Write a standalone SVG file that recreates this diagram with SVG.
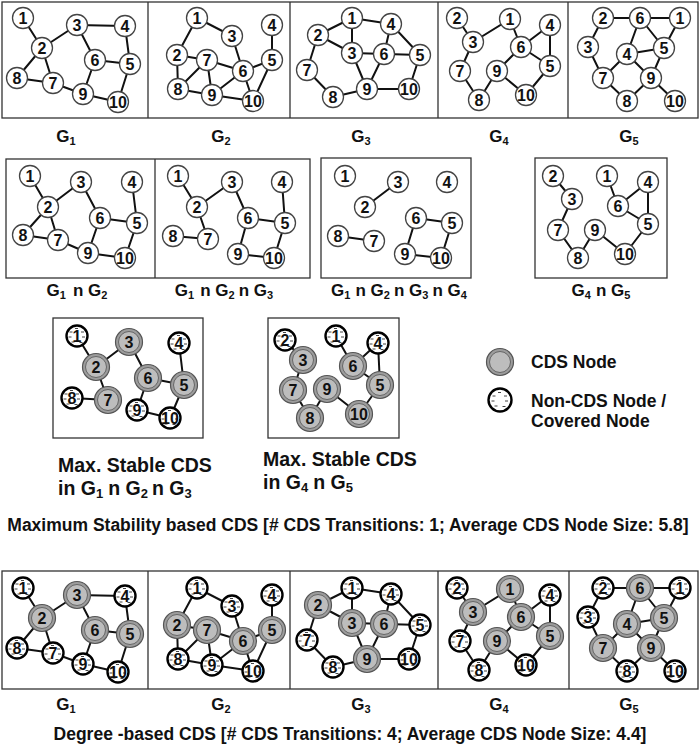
<svg xmlns="http://www.w3.org/2000/svg" width="700" height="746" viewBox="0 0 700 746">
<style>
.bx{fill:none;stroke:#333;stroke-width:1.3}
.e{fill:none;stroke:#111;stroke-width:2;stroke-linecap:round;stroke-linejoin:round}
.n{fill:#fff;stroke:#444;stroke-width:1.3}
.nc{fill:#fff;stroke:#000;stroke-width:2.4}
.co{fill:#9c9c9c;stroke:#555;stroke-width:1.2}
.ci{fill:#bdbdbd;stroke:#666;stroke-width:1}
.h{fill:none;stroke:#444;stroke-width:1}
.d{font-family:"Liberation Sans",Arial,sans-serif;font-weight:bold;font-size:16px;fill:#111;text-anchor:middle}
.l{font-family:"Liberation Sans",Arial,sans-serif;font-weight:bold;font-size:17px;fill:#111;text-anchor:middle}
.s{font-size:11px}
.m{font-family:"Liberation Sans",Arial,sans-serif;font-weight:bold;font-size:19.5px;fill:#111}
.ms{font-size:13px}
.g{font-family:"Liberation Sans",Arial,sans-serif;font-weight:bold;font-size:17.5px;fill:#111}
</style>
<defs>
<path id="hatch" class="h" d="M-2 -7.5h3M-7.5 -4h3M4 -4h3M-8.5 1h3M5 1h3M-5.5 6h3M2.5 6.5h3"/>
</defs>
<rect x="0" y="0" width="700" height="746" fill="#fff"/>

<g id="boxes">
<rect class="bx" x="2" y="2" width="696" height="116"/>
<path class="bx" d="M148 2V118M290 2V118M438 2V118M568 2V118"/>
<rect class="bx" x="6" y="159" width="304" height="119"/>
<path class="bx" d="M155 159V278"/>
<rect class="bx" x="321" y="158" width="150" height="120"/>
<rect class="bx" x="535" y="158" width="132" height="120"/>
<rect class="bx" x="53" y="318" width="150" height="120"/>
<rect class="bx" x="268" y="318" width="131" height="120"/>
<rect class="bx" x="2" y="571" width="696" height="118"/>
<path class="bx" d="M148 571V689M290 571V689M438 571V689M569 571V689"/>
</g>

<g id="connectors">
<path id="c-t1" class="e" d="M23 18L42 48L77 25L125 26L130 64L118 102L83 94L53 83L17 78L42 48L53 83M77 25L95 60L130 64M95 60L83 94"/>
<path id="c-t2" class="e" d="M177 55L197 18L232 36L243 71L272 60L272 25M272 60L253 101L243 71L207 60L177 55L178 89L207 60L212 95L178 89M212 95L243 71M212 95L253 101"/>
<path id="c-t3" class="e" d="M307 70L318 35L352 18L391 24L420 55L409 89L367 89L333 97L307 70M318 35L352 53L352 18M352 53L420 55M391 24L384 54L367 89L352 53"/>
<path id="c-t4" class="e" d="M457 18L473 42L510 19L521 47L550 25L550 66L526 95L497 71L521 47L550 66M473 42L460 71L479 100L497 71"/>
<path id="c-t5" class="e" d="M603 18L680 18L664 48L640 18L627 54L664 48L651 78L675 101M603 18L588 47L603 78L627 54L651 78L627 101L603 78"/>
<path id="c-m1" class="e" d="M30 176L48 207L81 182L100 218L137 223L132 182M137 223L125 258L88 253L58 240L23 235L48 207L58 240M100 218L88 253"/>
<path id="c-m2" class="e" d="M178 176L197 207L232 182L248 218L285 223L282 182M285 223L274 258L238 254L248 218M197 207L208 239L173 236"/>
<path id="c-m3" class="e" d="M365 207L398 182M338 236L374 241M452 223L416 218L405 254L441 258L452 223"/>
<path id="c-m4" class="e" d="M553 176L572 199L558 230L578 258L595 230L625 254L648 224L648 182L618 206L648 224M607 176L618 206"/>
<path id="c-s1" class="e" d="M77 336L96 367L129 342L148 378L184 385L179 343M184 385L170 418L137 410L148 378M96 367L108 400L72 398"/>
<path id="c-s2" class="e" d="M285 340L303 360L293 390L310 418L327 389L359 414L380 385L378 343L353 366L380 385M336 336L353 366"/>
<g transform="translate(0,570)">
<path id="c-b1" class="e" d="M23 18L42 48L77 25L125 26L130 64L118 102L83 94L53 83L17 78L42 48L53 83M77 25L95 60L130 64M95 60L83 94"/>
<path id="c-b2" class="e" d="M177 55L197 18L232 36L243 71L272 60L272 25M272 60L253 101L243 71L207 60L177 55L178 89L207 60L212 95L178 89M212 95L243 71M212 95L253 101"/>
<path id="c-b3" class="e" d="M307 70L318 35L352 18L391 24L420 55L409 89L367 89L333 97L307 70M318 35L352 53L352 18M352 53L420 55M391 24L384 54L367 89L352 53"/>
<path id="c-b4" class="e" d="M457 18L473 42L510 19L521 47L550 25L550 66L526 95L497 71L521 47L550 66M473 42L460 71L479 100L497 71"/>
<path id="c-b5" class="e" d="M603 18L680 18L664 48L640 18L627 54L664 48L651 78L675 101M603 18L588 47L603 78L627 54L651 78L627 101L603 78"/>
</g>
</g>

<g id="top-g1">
<g id="t1-1" transform="translate(23,18)"><circle class="n" r="10.5"/><text class="d" y="6">1</text></g>
<g id="t1-2" transform="translate(42,48)"><circle class="n" r="10.5"/><text class="d" y="6">2</text></g>
<g id="t1-3" transform="translate(77,25)"><circle class="n" r="10.5"/><text class="d" y="6">3</text></g>
<g id="t1-4" transform="translate(125,26)"><circle class="n" r="10.5"/><text class="d" y="6">4</text></g>
<g id="t1-5" transform="translate(130,64)"><circle class="n" r="10.5"/><text class="d" y="6">5</text></g>
<g id="t1-6" transform="translate(95,60)"><circle class="n" r="10.5"/><text class="d" y="6">6</text></g>
<g id="t1-7" transform="translate(53,83)"><circle class="n" r="10.5"/><text class="d" y="6">7</text></g>
<g id="t1-8" transform="translate(17,78)"><circle class="n" r="10.5"/><text class="d" y="6">8</text></g>
<g id="t1-9" transform="translate(83,94)"><circle class="n" r="10.5"/><text class="d" y="6">9</text></g>
<g id="t1-10" transform="translate(118,102)"><circle class="n" r="10.5"/><text class="d" y="6">10</text></g>
</g>
<g id="top-g2">
<g id="t2-1" transform="translate(197,18)"><circle class="n" r="10.5"/><text class="d" y="6">1</text></g>
<g id="t2-2" transform="translate(177,55)"><circle class="n" r="10.5"/><text class="d" y="6">2</text></g>
<g id="t2-3" transform="translate(232,36)"><circle class="n" r="10.5"/><text class="d" y="6">3</text></g>
<g id="t2-4" transform="translate(272,25)"><circle class="n" r="10.5"/><text class="d" y="6">4</text></g>
<g id="t2-5" transform="translate(272,60)"><circle class="n" r="10.5"/><text class="d" y="6">5</text></g>
<g id="t2-6" transform="translate(243,71)"><circle class="n" r="10.5"/><text class="d" y="6">6</text></g>
<g id="t2-7" transform="translate(207,60)"><circle class="n" r="10.5"/><text class="d" y="6">7</text></g>
<g id="t2-8" transform="translate(178,89)"><circle class="n" r="10.5"/><text class="d" y="6">8</text></g>
<g id="t2-9" transform="translate(212,95)"><circle class="n" r="10.5"/><text class="d" y="6">9</text></g>
<g id="t2-10" transform="translate(253,101)"><circle class="n" r="10.5"/><text class="d" y="6">10</text></g>
</g>
<g id="top-g3">
<g id="t3-1" transform="translate(352,18)"><circle class="n" r="10.5"/><text class="d" y="6">1</text></g>
<g id="t3-2" transform="translate(318,35)"><circle class="n" r="10.5"/><text class="d" y="6">2</text></g>
<g id="t3-3" transform="translate(352,53)"><circle class="n" r="10.5"/><text class="d" y="6">3</text></g>
<g id="t3-4" transform="translate(391,24)"><circle class="n" r="10.5"/><text class="d" y="6">4</text></g>
<g id="t3-5" transform="translate(420,55)"><circle class="n" r="10.5"/><text class="d" y="6">5</text></g>
<g id="t3-6" transform="translate(384,54)"><circle class="n" r="10.5"/><text class="d" y="6">6</text></g>
<g id="t3-7" transform="translate(307,70)"><circle class="n" r="10.5"/><text class="d" y="6">7</text></g>
<g id="t3-8" transform="translate(333,97)"><circle class="n" r="10.5"/><text class="d" y="6">8</text></g>
<g id="t3-9" transform="translate(367,89)"><circle class="n" r="10.5"/><text class="d" y="6">9</text></g>
<g id="t3-10" transform="translate(409,89)"><circle class="n" r="10.5"/><text class="d" y="6">10</text></g>
</g>
<g id="top-g4">
<g id="t4-1" transform="translate(510,19)"><circle class="n" r="10.5"/><text class="d" y="6">1</text></g>
<g id="t4-2" transform="translate(457,18)"><circle class="n" r="10.5"/><text class="d" y="6">2</text></g>
<g id="t4-3" transform="translate(473,42)"><circle class="n" r="10.5"/><text class="d" y="6">3</text></g>
<g id="t4-4" transform="translate(550,25)"><circle class="n" r="10.5"/><text class="d" y="6">4</text></g>
<g id="t4-5" transform="translate(550,66)"><circle class="n" r="10.5"/><text class="d" y="6">5</text></g>
<g id="t4-6" transform="translate(521,47)"><circle class="n" r="10.5"/><text class="d" y="6">6</text></g>
<g id="t4-7" transform="translate(460,71)"><circle class="n" r="10.5"/><text class="d" y="6">7</text></g>
<g id="t4-8" transform="translate(479,100)"><circle class="n" r="10.5"/><text class="d" y="6">8</text></g>
<g id="t4-9" transform="translate(497,71)"><circle class="n" r="10.5"/><text class="d" y="6">9</text></g>
<g id="t4-10" transform="translate(526,95)"><circle class="n" r="10.5"/><text class="d" y="6">10</text></g>
</g>
<g id="top-g5">
<g id="t5-1" transform="translate(680,18)"><circle class="n" r="10.5"/><text class="d" y="6">1</text></g>
<g id="t5-2" transform="translate(603,18)"><circle class="n" r="10.5"/><text class="d" y="6">2</text></g>
<g id="t5-3" transform="translate(588,47)"><circle class="n" r="10.5"/><text class="d" y="6">3</text></g>
<g id="t5-4" transform="translate(627,54)"><circle class="n" r="10.5"/><text class="d" y="6">4</text></g>
<g id="t5-5" transform="translate(664,48)"><circle class="n" r="10.5"/><text class="d" y="6">5</text></g>
<g id="t5-6" transform="translate(640,18)"><circle class="n" r="10.5"/><text class="d" y="6">6</text></g>
<g id="t5-7" transform="translate(603,78)"><circle class="n" r="10.5"/><text class="d" y="6">7</text></g>
<g id="t5-8" transform="translate(627,101)"><circle class="n" r="10.5"/><text class="d" y="6">8</text></g>
<g id="t5-9" transform="translate(651,78)"><circle class="n" r="10.5"/><text class="d" y="6">9</text></g>
<g id="t5-10" transform="translate(675,101)"><circle class="n" r="10.5"/><text class="d" y="6">10</text></g>
</g>

<g id="labels-top">
<text class="l" x="66" y="142">G<tspan class="s" dy="3">1</tspan></text>
<text class="l" x="221" y="142">G<tspan class="s" dy="3">2</tspan></text>
<text class="l" x="361" y="142">G<tspan class="s" dy="3">3</tspan></text>
<text class="l" x="499" y="142">G<tspan class="s" dy="3">4</tspan></text>
<text class="l" x="629" y="142">G<tspan class="s" dy="3">5</tspan></text>
</g>

<g id="mid-1">
<g id="m1-1" transform="translate(30,176)"><circle class="n" r="10.5"/><text class="d" y="6">1</text></g>
<g id="m1-2" transform="translate(48,207)"><circle class="n" r="10.5"/><text class="d" y="6">2</text></g>
<g id="m1-3" transform="translate(81,182)"><circle class="n" r="10.5"/><text class="d" y="6">3</text></g>
<g id="m1-4" transform="translate(132,182)"><circle class="n" r="10.5"/><text class="d" y="6">4</text></g>
<g id="m1-5" transform="translate(137,223)"><circle class="n" r="10.5"/><text class="d" y="6">5</text></g>
<g id="m1-6" transform="translate(100,218)"><circle class="n" r="10.5"/><text class="d" y="6">6</text></g>
<g id="m1-7" transform="translate(58,240)"><circle class="n" r="10.5"/><text class="d" y="6">7</text></g>
<g id="m1-8" transform="translate(23,235)"><circle class="n" r="10.5"/><text class="d" y="6">8</text></g>
<g id="m1-9" transform="translate(88,253)"><circle class="n" r="10.5"/><text class="d" y="6">9</text></g>
<g id="m1-10" transform="translate(125,258)"><circle class="n" r="10.5"/><text class="d" y="6">10</text></g>
</g>
<g id="mid-2">
<g id="m2-1" transform="translate(178,176)"><circle class="n" r="10.5"/><text class="d" y="6">1</text></g>
<g id="m2-2" transform="translate(197,207)"><circle class="n" r="10.5"/><text class="d" y="6">2</text></g>
<g id="m2-3" transform="translate(232,182)"><circle class="n" r="10.5"/><text class="d" y="6">3</text></g>
<g id="m2-4" transform="translate(282,182)"><circle class="n" r="10.5"/><text class="d" y="6">4</text></g>
<g id="m2-5" transform="translate(285,223)"><circle class="n" r="10.5"/><text class="d" y="6">5</text></g>
<g id="m2-6" transform="translate(248,218)"><circle class="n" r="10.5"/><text class="d" y="6">6</text></g>
<g id="m2-7" transform="translate(208,239)"><circle class="n" r="10.5"/><text class="d" y="6">7</text></g>
<g id="m2-8" transform="translate(173,236)"><circle class="n" r="10.5"/><text class="d" y="6">8</text></g>
<g id="m2-9" transform="translate(238,254)"><circle class="n" r="10.5"/><text class="d" y="6">9</text></g>
<g id="m2-10" transform="translate(274,258)"><circle class="n" r="10.5"/><text class="d" y="6">10</text></g>
</g>
<g id="mid-3">
<g id="m3-1" transform="translate(345,176)"><circle class="n" r="10.5"/><text class="d" y="6">1</text></g>
<g id="m3-2" transform="translate(365,207)"><circle class="n" r="10.5"/><text class="d" y="6">2</text></g>
<g id="m3-3" transform="translate(398,182)"><circle class="n" r="10.5"/><text class="d" y="6">3</text></g>
<g id="m3-4" transform="translate(447,182)"><circle class="n" r="10.5"/><text class="d" y="6">4</text></g>
<g id="m3-5" transform="translate(452,223)"><circle class="n" r="10.5"/><text class="d" y="6">5</text></g>
<g id="m3-6" transform="translate(416,218)"><circle class="n" r="10.5"/><text class="d" y="6">6</text></g>
<g id="m3-7" transform="translate(374,241)"><circle class="n" r="10.5"/><text class="d" y="6">7</text></g>
<g id="m3-8" transform="translate(338,236)"><circle class="n" r="10.5"/><text class="d" y="6">8</text></g>
<g id="m3-9" transform="translate(405,254)"><circle class="n" r="10.5"/><text class="d" y="6">9</text></g>
<g id="m3-10" transform="translate(441,258)"><circle class="n" r="10.5"/><text class="d" y="6">10</text></g>
</g>
<g id="mid-4">
<g id="m4-1" transform="translate(607,176)"><circle class="n" r="10.5"/><text class="d" y="6">1</text></g>
<g id="m4-2" transform="translate(553,176)"><circle class="n" r="10.5"/><text class="d" y="6">2</text></g>
<g id="m4-3" transform="translate(572,199)"><circle class="n" r="10.5"/><text class="d" y="6">3</text></g>
<g id="m4-4" transform="translate(648,182)"><circle class="n" r="10.5"/><text class="d" y="6">4</text></g>
<g id="m4-5" transform="translate(648,224)"><circle class="n" r="10.5"/><text class="d" y="6">5</text></g>
<g id="m4-6" transform="translate(618,206)"><circle class="n" r="10.5"/><text class="d" y="6">6</text></g>
<g id="m4-7" transform="translate(558,230)"><circle class="n" r="10.5"/><text class="d" y="6">7</text></g>
<g id="m4-8" transform="translate(578,258)"><circle class="n" r="10.5"/><text class="d" y="6">8</text></g>
<g id="m4-9" transform="translate(595,230)"><circle class="n" r="10.5"/><text class="d" y="6">9</text></g>
<g id="m4-10" transform="translate(625,254)"><circle class="n" r="10.5"/><text class="d" y="6">10</text></g>
</g>

<g id="labels-mid">
<text class="l" x="77" y="296">G<tspan class="s" dy="3">1</tspan><tspan dy="-3" dx="7">n G</tspan><tspan class="s" dy="3">2</tspan></text>
<text class="l" x="224" y="296">G<tspan class="s" dy="3">1</tspan><tspan dy="-3" dx="6">n G</tspan><tspan class="s" dy="3">2</tspan><tspan dy="-3" dx="4">n G</tspan><tspan class="s" dy="3">3</tspan></text>
<text class="l" x="399" y="296">G<tspan class="s" dy="3">1</tspan><tspan dy="-3" dx="5">n G</tspan><tspan class="s" dy="3">2</tspan><tspan dy="-3" dx="4">n G</tspan><tspan class="s" dy="3">3</tspan><tspan dy="-3" dx="4">n G</tspan><tspan class="s" dy="3">4</tspan></text>
<text class="l" x="601" y="296">G<tspan class="s" dy="3">4</tspan><tspan dy="-3" dx="5">n G</tspan><tspan class="s" dy="3">5</tspan></text>
</g>

<g id="stable-1">
<g id="s1-1" transform="translate(77,336)"><circle class="nc" r="10.5"/><use href="#hatch"/><text class="d" y="6">1</text></g>
<g id="s1-2" transform="translate(96,367)"><circle class="co" r="13.5"/><circle class="ci" r="10.5"/><text class="d" y="6">2</text></g>
<g id="s1-3" transform="translate(129,342)"><circle class="co" r="13.5"/><circle class="ci" r="10.5"/><text class="d" y="6">3</text></g>
<g id="s1-4" transform="translate(179,343)"><circle class="nc" r="10.5"/><use href="#hatch"/><text class="d" y="6">4</text></g>
<g id="s1-5" transform="translate(184,385)"><circle class="co" r="13.5"/><circle class="ci" r="10.5"/><text class="d" y="6">5</text></g>
<g id="s1-6" transform="translate(148,378)"><circle class="co" r="13.5"/><circle class="ci" r="10.5"/><text class="d" y="6">6</text></g>
<g id="s1-7" transform="translate(108,400)"><circle class="co" r="13.5"/><circle class="ci" r="10.5"/><text class="d" y="6">7</text></g>
<g id="s1-8" transform="translate(72,398)"><circle class="nc" r="10.5"/><use href="#hatch"/><text class="d" y="6">8</text></g>
<g id="s1-9" transform="translate(137,410)"><circle class="nc" r="10.5"/><use href="#hatch"/><text class="d" y="6">9</text></g>
<g id="s1-10" transform="translate(170,418)"><circle class="nc" r="10.5"/><use href="#hatch"/><text class="d" y="6">10</text></g>
</g>
<g id="stable-2">
<g id="s2-1" transform="translate(336,336)"><circle class="nc" r="10.5"/><use href="#hatch"/><text class="d" y="6">1</text></g>
<g id="s2-2" transform="translate(285,340)"><circle class="nc" r="10.5"/><use href="#hatch"/><text class="d" y="6">2</text></g>
<g id="s2-3" transform="translate(303,360)"><circle class="co" r="13.5"/><circle class="ci" r="10.5"/><text class="d" y="6">3</text></g>
<g id="s2-4" transform="translate(378,343)"><circle class="nc" r="10.5"/><use href="#hatch"/><text class="d" y="6">4</text></g>
<g id="s2-5" transform="translate(380,385)"><circle class="co" r="13.5"/><circle class="ci" r="10.5"/><text class="d" y="6">5</text></g>
<g id="s2-6" transform="translate(353,366)"><circle class="co" r="13.5"/><circle class="ci" r="10.5"/><text class="d" y="6">6</text></g>
<g id="s2-7" transform="translate(293,390)"><circle class="co" r="13.5"/><circle class="ci" r="10.5"/><text class="d" y="6">7</text></g>
<g id="s2-8" transform="translate(310,418)"><circle class="co" r="13.5"/><circle class="ci" r="10.5"/><text class="d" y="6">8</text></g>
<g id="s2-9" transform="translate(327,389)"><circle class="co" r="13.5"/><circle class="ci" r="10.5"/><text class="d" y="6">9</text></g>
<g id="s2-10" transform="translate(359,414)"><circle class="co" r="13.5"/><circle class="ci" r="10.5"/><text class="d" y="6">10</text></g>
</g>

<g id="labels-stable">
<text class="m" x="58" y="472">Max. Stable CDS</text>
<text class="m" x="58" y="495">in G<tspan class="ms" dy="3">1</tspan><tspan dy="-3" dx="5">n G</tspan><tspan class="ms" dy="3">2</tspan><tspan dy="-3" dx="4">n G</tspan><tspan class="ms" dy="3">3</tspan></text>
<text class="m" x="263" y="466">Max. Stable CDS</text>
<text class="m" x="263" y="489">in G<tspan class="ms" dy="3">4</tspan><tspan dy="-3" dx="5">n G</tspan><tspan class="ms" dy="3">5</tspan></text>
</g>

<g id="legend">
<g id="legend-cds" transform="translate(500,362)"><circle class="co" r="13.5"/><circle class="ci" r="10.5"/></g>
<text class="g" x="531" y="368">CDS Node</text>
<g id="legend-noncds" transform="translate(500,400)"><circle class="nc" r="11.5"/><use href="#hatch"/></g>
<text class="g" x="531" y="407">Non-CDS Node /</text>
<text class="g" x="531" y="427">Covered Node</text>
</g>

<text id="title-stable" class="g" x="348" y="531" text-anchor="middle">Maximum Stability based CDS [# CDS Transitions: 1; Average CDS Node Size: 5.8]</text>

<g transform="translate(0,570)">
<g id="bot-g1">
<g id="b1-1" transform="translate(23,18)"><circle class="nc" r="10.5"/><use href="#hatch"/><text class="d" y="6">1</text></g>
<g id="b1-2" transform="translate(42,48)"><circle class="co" r="13.5"/><circle class="ci" r="10.5"/><text class="d" y="6">2</text></g>
<g id="b1-3" transform="translate(77,25)"><circle class="co" r="13.5"/><circle class="ci" r="10.5"/><text class="d" y="6">3</text></g>
<g id="b1-4" transform="translate(125,26)"><circle class="nc" r="10.5"/><use href="#hatch"/><text class="d" y="6">4</text></g>
<g id="b1-5" transform="translate(130,64)"><circle class="co" r="13.5"/><circle class="ci" r="10.5"/><text class="d" y="6">5</text></g>
<g id="b1-6" transform="translate(95,60)"><circle class="co" r="13.5"/><circle class="ci" r="10.5"/><text class="d" y="6">6</text></g>
<g id="b1-7" transform="translate(53,83)"><circle class="nc" r="10.5"/><use href="#hatch"/><text class="d" y="6">7</text></g>
<g id="b1-8" transform="translate(17,78)"><circle class="nc" r="10.5"/><use href="#hatch"/><text class="d" y="6">8</text></g>
<g id="b1-9" transform="translate(83,94)"><circle class="nc" r="10.5"/><use href="#hatch"/><text class="d" y="6">9</text></g>
<g id="b1-10" transform="translate(118,102)"><circle class="nc" r="10.5"/><use href="#hatch"/><text class="d" y="6">10</text></g>
</g>
<g id="bot-g2">
<g id="b2-1" transform="translate(197,18)"><circle class="nc" r="10.5"/><use href="#hatch"/><text class="d" y="6">1</text></g>
<g id="b2-2" transform="translate(177,55)"><circle class="co" r="13.5"/><circle class="ci" r="10.5"/><text class="d" y="6">2</text></g>
<g id="b2-3" transform="translate(232,36)"><circle class="nc" r="10.5"/><use href="#hatch"/><text class="d" y="6">3</text></g>
<g id="b2-4" transform="translate(272,25)"><circle class="nc" r="10.5"/><use href="#hatch"/><text class="d" y="6">4</text></g>
<g id="b2-5" transform="translate(272,60)"><circle class="co" r="13.5"/><circle class="ci" r="10.5"/><text class="d" y="6">5</text></g>
<g id="b2-6" transform="translate(243,71)"><circle class="co" r="13.5"/><circle class="ci" r="10.5"/><text class="d" y="6">6</text></g>
<g id="b2-7" transform="translate(207,60)"><circle class="co" r="13.5"/><circle class="ci" r="10.5"/><text class="d" y="6">7</text></g>
<g id="b2-8" transform="translate(178,89)"><circle class="nc" r="10.5"/><use href="#hatch"/><text class="d" y="6">8</text></g>
<g id="b2-9" transform="translate(212,95)"><circle class="nc" r="10.5"/><use href="#hatch"/><text class="d" y="6">9</text></g>
<g id="b2-10" transform="translate(253,101)"><circle class="nc" r="10.5"/><use href="#hatch"/><text class="d" y="6">10</text></g>
</g>
<g id="bot-g3">
<g id="b3-1" transform="translate(352,18)"><circle class="nc" r="10.5"/><use href="#hatch"/><text class="d" y="6">1</text></g>
<g id="b3-2" transform="translate(318,35)"><circle class="co" r="13.5"/><circle class="ci" r="10.5"/><text class="d" y="6">2</text></g>
<g id="b3-3" transform="translate(352,53)"><circle class="co" r="13.5"/><circle class="ci" r="10.5"/><text class="d" y="6">3</text></g>
<g id="b3-4" transform="translate(391,24)"><circle class="nc" r="10.5"/><use href="#hatch"/><text class="d" y="6">4</text></g>
<g id="b3-5" transform="translate(420,55)"><circle class="nc" r="10.5"/><use href="#hatch"/><text class="d" y="6">5</text></g>
<g id="b3-6" transform="translate(384,54)"><circle class="co" r="13.5"/><circle class="ci" r="10.5"/><text class="d" y="6">6</text></g>
<g id="b3-7" transform="translate(307,70)"><circle class="nc" r="10.5"/><use href="#hatch"/><text class="d" y="6">7</text></g>
<g id="b3-8" transform="translate(333,97)"><circle class="nc" r="10.5"/><use href="#hatch"/><text class="d" y="6">8</text></g>
<g id="b3-9" transform="translate(367,89)"><circle class="co" r="13.5"/><circle class="ci" r="10.5"/><text class="d" y="6">9</text></g>
<g id="b3-10" transform="translate(409,89)"><circle class="nc" r="10.5"/><use href="#hatch"/><text class="d" y="6">10</text></g>
</g>
<g id="bot-g4">
<g id="b4-1" transform="translate(510,19)"><circle class="co" r="13.5"/><circle class="ci" r="10.5"/><text class="d" y="6">1</text></g>
<g id="b4-2" transform="translate(457,18)"><circle class="nc" r="10.5"/><use href="#hatch"/><text class="d" y="6">2</text></g>
<g id="b4-3" transform="translate(473,42)"><circle class="co" r="13.5"/><circle class="ci" r="10.5"/><text class="d" y="6">3</text></g>
<g id="b4-4" transform="translate(550,25)"><circle class="nc" r="10.5"/><use href="#hatch"/><text class="d" y="6">4</text></g>
<g id="b4-5" transform="translate(550,66)"><circle class="co" r="13.5"/><circle class="ci" r="10.5"/><text class="d" y="6">5</text></g>
<g id="b4-6" transform="translate(521,47)"><circle class="co" r="13.5"/><circle class="ci" r="10.5"/><text class="d" y="6">6</text></g>
<g id="b4-7" transform="translate(460,71)"><circle class="nc" r="10.5"/><use href="#hatch"/><text class="d" y="6">7</text></g>
<g id="b4-8" transform="translate(479,100)"><circle class="nc" r="10.5"/><use href="#hatch"/><text class="d" y="6">8</text></g>
<g id="b4-9" transform="translate(497,71)"><circle class="co" r="13.5"/><circle class="ci" r="10.5"/><text class="d" y="6">9</text></g>
<g id="b4-10" transform="translate(526,95)"><circle class="nc" r="10.5"/><use href="#hatch"/><text class="d" y="6">10</text></g>
</g>
<g id="bot-g5">
<g id="b5-1" transform="translate(680,18)"><circle class="nc" r="10.5"/><use href="#hatch"/><text class="d" y="6">1</text></g>
<g id="b5-2" transform="translate(603,18)"><circle class="nc" r="10.5"/><use href="#hatch"/><text class="d" y="6">2</text></g>
<g id="b5-3" transform="translate(588,47)"><circle class="nc" r="10.5"/><use href="#hatch"/><text class="d" y="6">3</text></g>
<g id="b5-4" transform="translate(627,54)"><circle class="co" r="13.5"/><circle class="ci" r="10.5"/><text class="d" y="6">4</text></g>
<g id="b5-5" transform="translate(664,48)"><circle class="co" r="13.5"/><circle class="ci" r="10.5"/><text class="d" y="6">5</text></g>
<g id="b5-6" transform="translate(640,18)"><circle class="co" r="13.5"/><circle class="ci" r="10.5"/><text class="d" y="6">6</text></g>
<g id="b5-7" transform="translate(603,78)"><circle class="co" r="13.5"/><circle class="ci" r="10.5"/><text class="d" y="6">7</text></g>
<g id="b5-8" transform="translate(627,101)"><circle class="nc" r="10.5"/><use href="#hatch"/><text class="d" y="6">8</text></g>
<g id="b5-9" transform="translate(651,78)"><circle class="co" r="13.5"/><circle class="ci" r="10.5"/><text class="d" y="6">9</text></g>
<g id="b5-10" transform="translate(675,101)"><circle class="nc" r="10.5"/><use href="#hatch"/><text class="d" y="6">10</text></g>
</g>
</g>

<g id="labels-bottom">
<text class="l" x="66" y="710">G<tspan class="s" dy="3">1</tspan></text>
<text class="l" x="221" y="710">G<tspan class="s" dy="3">2</tspan></text>
<text class="l" x="361" y="710">G<tspan class="s" dy="3">3</tspan></text>
<text class="l" x="499" y="710">G<tspan class="s" dy="3">4</tspan></text>
<text class="l" x="629" y="710">G<tspan class="s" dy="3">5</tspan></text>
</g>

<text id="title-degree" class="g" x="350" y="740" text-anchor="middle">Degree -based CDS [# CDS Transitions: 4; Average CDS Node Size: 4.4]</text>
</svg>
